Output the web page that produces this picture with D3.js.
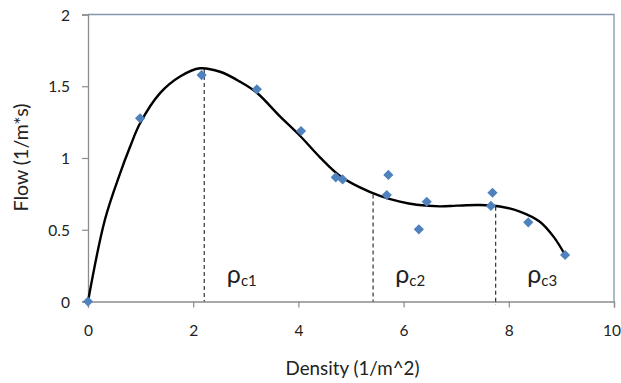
<!DOCTYPE html>
<html>
<head>
<meta charset="utf-8">
<script src="https://cdn.jsdelivr.net/npm/d3@7"></script>
<style>
  html, body { margin: 0; padding: 0; background: #fff; }
  svg { display: block; }
  text { font-family: Lato, "Open Sans", sans-serif; fill: #222; }
</style>
</head>
<body>
<svg id="chart" width="621" height="383"></svg>
<script>
// Measured flow vs. density samples
const density = [0, 0.99, 2.16, 3.21, 4.05, 4.71, 4.84, 5.71, 5.68, 6.44, 6.29, 7.69, 7.66, 8.37, 9.07];
const flow    = [0, 1.277, 1.578, 1.479, 1.188, 0.865, 0.851, 0.882, 0.742, 0.695, 0.503, 0.758, 0.666, 0.552, 0.324];

// Fitted trend curve (fundamental diagram)
const trendDensity = [0, 0.32, 0.61, 0.80, 0.99, 1.37, 1.75, 2.13, 2.51, 2.89, 3.21, 3.65, 4.03, 4.41, 4.79, 5.17, 5.55, 5.93, 6.25, 6.69, 7.01, 7.45, 7.83, 8.21, 8.59, 8.85, 9.07];
const trendFlow    = [0, 0.568, 0.893, 1.078, 1.242, 1.452, 1.568, 1.625, 1.601, 1.532, 1.455, 1.29, 1.155, 1.005, 0.875, 0.795, 0.736, 0.696, 0.674, 0.663, 0.668, 0.672, 0.662, 0.627, 0.556, 0.452, 0.324];

// Critical densities and where their guide lines start / end
const criticalDensity = [2.21, 5.42, 7.75];
const criticalTop     = [1.62, 0.745, 0.66];
const criticalBottom  = [0, 0, -0.025];
const criticalLabels  = ["c1", "c2", "c3"];
const criticalLabelX  = [2.64, 5.84, 8.35];
const criticalLabelY  = 0.11;

// Axis ticks
const xTicks = [0, 2, 4, 6, 8, 10];
const yTicks = [0, 0.5, 1, 1.5, 2];
const yTickLabels = ["0", "0.5", "1", "1.5", "2"];

const xTitle = "Density (1/m^2)";
const yTitle = "Flow (1/m*s)";

const svg = d3.select("#chart");
const plotLeft = 88, plotRight = 614, plotTop = 14.5, plotBottom = 301.5;

const x = d3.scaleLinear().domain([0, 10]).range([plotLeft, plotRight]);
const y = d3.scaleLinear().domain([0, 2]).range([plotBottom, plotTop]);

// Scale a text's font so its run has the given width
function fitWidth(sel, width) {
  sel.each(function () {
    const fs = parseFloat(this.getAttribute("font-size"));
    const w = this.getComputedTextLength();
    if (w > 0) this.setAttribute("font-size", (fs * width / w).toFixed(2));
  });
}

// Plot area frame (top and right edges)
svg.append("path")
  .attr("d", `M${plotLeft},${plotTop}H${plotRight}V${plotBottom}`)
  .attr("fill", "none")
  .attr("stroke", "#8595ad")
  .attr("stroke-width", 1.3);

// Axes
const xAxis = svg.append("g")
  .attr("transform", `translate(0,${plotBottom})`)
  .call(d3.axisBottom(x).tickValues(xTicks).tickFormat(d3.format("d")).tickSize(6).tickPadding(17));
const yAxis = svg.append("g")
  .attr("transform", `translate(${plotLeft},0)`)
  .call(d3.axisLeft(y).tickValues(yTicks).tickFormat((d, i) => yTickLabels[i]).tickSize(6).tickPadding(12));

[xAxis, yAxis].forEach(g => {
  g.select(".domain").attr("stroke", "#8c8c8c").attr("stroke-width", 1.3);
  g.selectAll(".tick line").attr("stroke", "#8c8c8c").attr("stroke-width", 1.2);
  g.selectAll(".tick text")
    .attr("font-family", "Lato, 'Open Sans', sans-serif")
    .attr("font-size", 15.5)
    .attr("fill", "#222");
});
yAxis.selectAll(".tick text").attr("dy", "0.36em");
// keep the last x label inside the canvas
xAxis.selectAll(".tick text").filter(d => d === xTicks[xTicks.length - 1])
  .attr("text-anchor", "end").attr("x", 621 - plotRight - 0.5);

// Dashed guide lines at the critical densities
svg.append("g").selectAll("line")
  .data(criticalDensity)
  .join("line")
  .attr("x1", d => x(d)).attr("x2", d => x(d))
  .attr("y1", (d, i) => y(criticalTop[i]))
  .attr("y2", (d, i) => y(criticalBottom[i]))
  .attr("stroke", "#333")
  .attr("stroke-width", 1.2)
  .attr("stroke-dasharray", "4,3");

// Trend curve
const line = d3.line()
  .x(d => x(d[0]))
  .y(d => y(d[1]))
  .curve(d3.curveCatmullRom.alpha(0.5));
svg.append("path")
  .datum(trendDensity.map((d, i) => [d, trendFlow[i]]))
  .attr("d", line)
  .attr("fill", "none")
  .attr("stroke", "#000")
  .attr("stroke-width", 2.4)
  .attr("stroke-linejoin", "round");

// Sample markers (diamonds)
const diamond = d3.symbol().type(d3.symbolSquare).size(52);
svg.append("g").selectAll("path")
  .data(density.map((d, i) => [d, flow[i]]))
  .join("path")
  .attr("d", diamond)
  .attr("transform", d => `translate(${x(d[0])},${y(d[1])}) rotate(45)`)
  .attr("fill", "#4f81bd");

// Critical density labels
const lbl = svg.append("g").selectAll("text")
  .data(criticalLabels)
  .join("text")
  .attr("x", (d, i) => x(criticalLabelX[i]))
  .attr("y", y(criticalLabelY));
lbl.append("tspan").attr("font-size", 25).attr("dy", "-3").text("ρ");
lbl.append("tspan").attr("font-size", 15).attr("dy", "3").text(d => d);

// Axis titles
svg.append("text")
  .attr("x", 352.5).attr("y", 375)
  .attr("text-anchor", "middle")
  .attr("font-size", 16)
  .text(xTitle)
  .call(fitWidth, 134);
svg.append("text")
  .attr("transform", "translate(28,157.5) rotate(-90)")
  .attr("text-anchor", "middle")
  .attr("font-size", 16)
  .text(yTitle)
  .call(fitWidth, 108);
</script>
</body>
</html>
